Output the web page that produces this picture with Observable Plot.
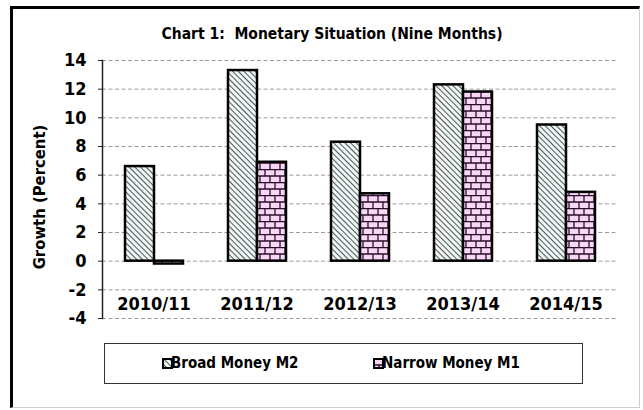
<!DOCTYPE html>
<html>
<head>
<meta charset="utf-8">
<script src="https://cdn.jsdelivr.net/npm/d3@7"></script>
<script src="https://cdn.jsdelivr.net/npm/@observablehq/plot@0.6"></script>
<style>
  html, body { margin: 0; padding: 0; background: #fff; }
  #wrap { position: relative; width: 643px; height: 410px; background: #fff; overflow: hidden;
          font-family: "Liberation Sans Narrow", "DejaVu Sans Condensed", "Liberation Sans", Arial, sans-serif; }
  #frame { position: absolute; left: 10px; top: 6px; width: 626px; height: 398px;
           border-left: 3px solid #000; border-top: 3px solid #000;
           border-right: 1px solid #cfcfcf; border-bottom: 1px solid #cfcfcf; }
  #title { position: absolute; left: 12px; width: 640px; top: 25px; text-align: center;
           font-weight: bold; font-size: 15.5px; color: #000; }
  #chart { position: absolute; left: 0; top: 0; }
  #legend { position: absolute; left: 104px; top: 343px; width: 477px; height: 39px;
            border: 1.5px solid #333; box-sizing: content-box; }
  .item { position: absolute; top: 10px; font-weight: bold; font-size: 15px; color: #000; white-space: nowrap;
          display: flex; align-items: center; }
  .item svg { margin-right: -2px; }
</style>
</head>
<body>
<svg width="0" height="0" style="position:absolute">
  <defs>
    <pattern id="hatch" patternUnits="userSpaceOnUse" width="4" height="4" patternTransform="rotate(-45)">
      <rect width="4" height="4" fill="#eef6f6"></rect>
      <line x1="0" y1="0" x2="0" y2="4" stroke="#2a2a2a" stroke-width="1.6"></line>
    </pattern>
    <pattern id="brick" patternUnits="userSpaceOnUse" width="10" height="13">
      <rect width="10" height="13" fill="#f8d6f6"></rect>
      <path d="M0,0.5H10M0,7H10M1,0V6.5M6,6.5V13" stroke="#2a102a" stroke-width="1.3" fill="none"></path>
    </pattern>
  </defs>
</svg>
<div id="wrap">
  <div id="frame"></div>
  <div id="chart"></div>
  <div id="title">Chart 1:&nbsp; Monetary Situation (Nine Months)</div>
  <div id="legend"></div>
</div>
<script>
const categories = ["2010/11", "2011/12", "2012/13", "2013/14", "2014/15"];
const seriesNames = ["Broad Money M2", "Narrow Money M1"];
const broadM2 = [6.6, 13.3, 8.3, 12.3, 9.5];
const narrowM1 = [-0.2, 6.9, 4.7, 11.8, 4.8];
const yTicks = [-4, -2, 0, 2, 4, 6, 8, 10, 12, 14];
const yLabel = "Growth (Percent)";

const fills = ["url(#hatch)", "url(#brick)"];
const rowsM2 = categories.map((c, i) => ({cat: c, series: seriesNames[0], value: broadM2[i]}));
const rowsM1 = categories.map((c, i) => ({cat: c, series: seriesNames[1], value: narrowM1[i]}));

const fontFam = '"Liberation Sans Narrow", "DejaVu Sans Condensed", "Liberation Sans", Arial, sans-serif';

const chart = Plot.plot({
  width: 643,
  height: 340,
  marginLeft: 101,
  marginRight: 26,
  marginTop: 60,
  marginBottom: 22,
  style: {fontFamily: fontFam, color: "#000", background: "transparent", overflow: "visible"},
  fx: {domain: categories, padding: 0, label: null},
  x: {domain: seriesNames, paddingInner: 0, paddingOuter: 0.72, axis: null},
  y: {domain: [-4, 14], label: null},
  marks: [
    Plot.ruleY(yTicks, {stroke: "#9a9a9a", strokeWidth: 1, strokeDasharray: "4,2.5"}),
    Plot.ruleX(categories, {fx: d => d, frameAnchor: "right", y1: 0, y2: 0, insetBottom: -4, stroke: "#9a9a9a"}),
    Plot.barY(rowsM2, {fx: "cat", x: "series", y: "value", fill: fills[0], stroke: "#000", strokeWidth: 2.5}),
    Plot.barY(rowsM1, {fx: "cat", x: "series", y: "value", fill: fills[1], stroke: "#000", strokeWidth: 2.5}),
    Plot.frame({anchor: "left", facetAnchor: "left", stroke: "#222", strokeWidth: 1.5}),
    Plot.axisY({ticks: yTicks, tickFormat: d => String(d), tickSize: 4, tickPadding: 12, fontSize: 18, fontWeight: "bold", label: null, stroke: "#222"}),
    Plot.axisFx({anchor: "bottom", tickSize: 0, tickPadding: 0, dy: -21, fontSize: 18, fontWeight: "bold", label: null})
  ]
});
document.getElementById("chart").appendChild(chart);

// y-axis title
const svg = d3.select(chart);
svg.append("text")
  .attr("transform", "translate(40,197) rotate(-90)")
  .attr("text-anchor", "middle")
  .attr("dominant-baseline", "middle")
  .attr("font-weight", "bold")
  .attr("font-size", 16.5)
  .attr("font-family", fontFam)
  .attr("fill", "#000")
  .text(yLabel);

// legend
const legend = document.getElementById("legend");
const lefts = [57, 268];
seriesNames.forEach((name, i) => {
  const item = document.createElement("div");
  item.className = "item";
  item.style.left = lefts[i] + "px";
  item.innerHTML = `<svg width="11" height="11"><rect x="1" y="1" width="9" height="9" fill="${fills[i]}" stroke="#000" stroke-width="2"></rect></svg>`;
  const span = document.createElement("span");
  span.textContent = name;
  item.appendChild(span);
  legend.appendChild(item);
});
</script>
</body>
</html>
